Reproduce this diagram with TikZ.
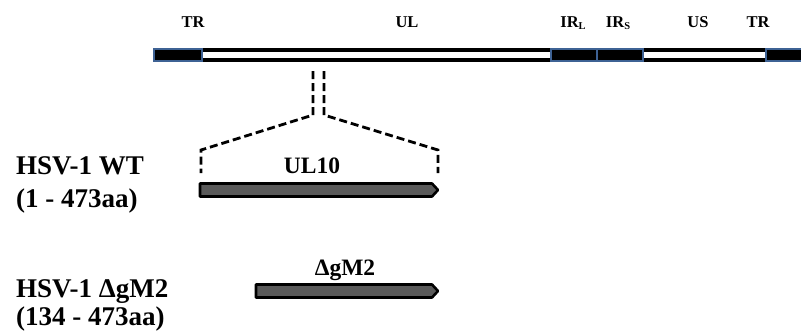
\documentclass[tikz,border=0pt]{standalone}
\usepackage{fontspec}
\setmainfont{Liberation Serif}
\definecolor{repblue}{RGB}{62,98,148}
\definecolor{genegray}{RGB}{90,90,90}
\begin{document}
\begin{tikzpicture}[x=1pt,y=-1pt,
  toplab/.style={font=\fontsize{16.5}{16.5}\selectfont\bfseries, inner sep=0pt},
  genelab/.style={font=\fontsize{23.5}{23.5}\selectfont\bfseries, inner sep=0pt},
  sidelab/.style={font=\fontsize{27}{27}\selectfont\bfseries, inner sep=0pt, anchor=base west},
  repbox/.style={draw=repblue, fill=black, line width=2pt},
  dashline/.style={line width=2.8pt, dash pattern=on 8pt off 4pt},
  gene/.style={draw=black, fill=genegray, line width=2.6pt, line join=round}]
\useasboundingbox (0,0) rectangle (801,333);
% genome bar
\draw[line width=4pt, fill=white] (160,49.5) rectangle (801,59.5);
\path[repbox] (154,48.6) rectangle (201.5,60.6);
\path[repbox] (550.5,48.6) rectangle (597,60.6);
\path[repbox] (597,48.6) rectangle (643,60.6);
\path[repbox] (765.5,48.6) rectangle (803,60.6);
% top labels
\node[toplab] (tr1) at (193,22) {TR};
\node[toplab] (ul) at (407,22) {UL};
\node[toplab] (irl) at (573,23) {IR\raisebox{-0.3ex}{\fontsize{10.5}{10.5}\selectfont L}};
\node[toplab] (irs) at (618,23) {IR\raisebox{-0.3ex}{\fontsize{10.5}{10.5}\selectfont S}};
\node[toplab] (us) at (698,22) {US};
\node[toplab] (tr2) at (758,22) {TR};
% zoom-in dashed lines
\coordinate (l1) at (313,71);
\coordinate (l2) at (313,115);
\coordinate (l3) at (201,150);
\coordinate (l4) at (201,173);
\coordinate (r1) at (324,71);
\coordinate (r2) at (324,115);
\coordinate (r3) at (438,150);
\coordinate (r4) at (438,173);
\draw[dashline] (l1) -- (l2) -- (l3) -- (l4);
\draw[dashline] (r1) -- (r2) -- (r3) -- (r4);
% genes
\draw[gene] (200,183.5) -- (432,183.5) -- (438,190) -- (432,196.5) -- (200,196.5) -- cycle;
\draw[gene] (256,284.5) -- (432,284.5) -- (438,291) -- (432,297.5) -- (256,297.5) -- cycle;
\node[genelab] (ul10) at (312,166) {UL10};
\node[genelab] (dgm2) at (345,270) {ΔgM2};
% side labels
\node[sidelab] (wt) at (16,174) {HSV-1 WT};
\node[sidelab] (wtaa) at (16,207) {(1 - 473aa)};
\node[sidelab] (mut) at (16,297) {HSV-1 ΔgM2};
\node[sidelab] (mutaa) at (16,325) {(134 - 473aa)};
\end{tikzpicture}
\end{document}
